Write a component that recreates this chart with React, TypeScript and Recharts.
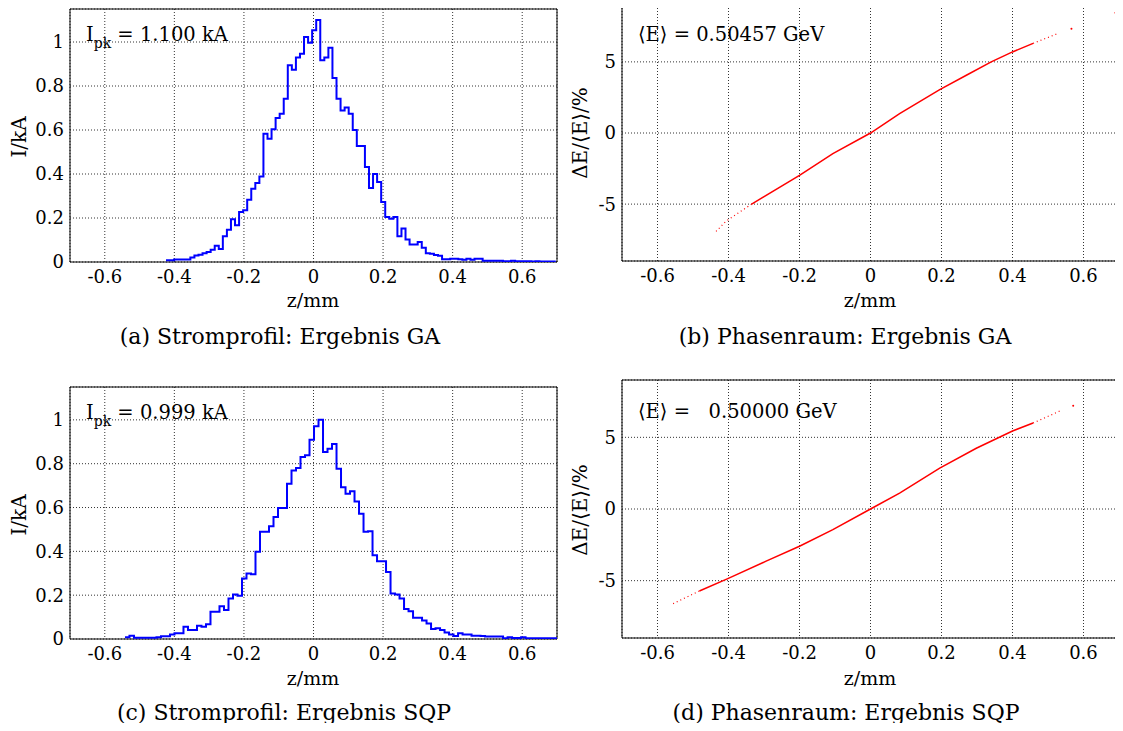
import React from "react";
import { LineChart, Line, XAxis, YAxis, CartesianGrid, ReferenceArea } from "recharts";

// axis ticks
const zTicks = [-0.6, -0.4, -0.2, 0, 0.2, 0.4, 0.6];
const currentTicks = [0, 0.2, 0.4, 0.6, 0.8, 1];
const energyTicks = [-5, 0, 5];

// current profile, GA result (kA per bin)
const gaBinStart = -0.424;
const gaBinWidth = 0.01167;
const gaCurrent = [
  0.008, 0.008, 0.011, 0.011, 0.011, 0.011, 0.02, 0.03, 0.033, 0.04,
  0.045, 0.056, 0.074, 0.059, 0.117, 0.147, 0.194, 0.167, 0.227, 0.235,
  0.283, 0.333, 0.359, 0.389, 0.583, 0.56, 0.603, 0.655, 0.674, 0.742,
  0.894, 0.874, 0.929, 0.947, 1.023, 0.997, 1.053, 1.1, 0.917, 0.929,
  0.974, 0.836, 0.742, 0.689, 0.702, 0.674, 0.6, 0.527, 0.527, 0.432,
  0.336, 0.4, 0.364, 0.273, 0.205, 0.197, 0.205, 0.117, 0.152, 0.102,
  0.08, 0.08, 0.091, 0.065, 0.04, 0.038, 0.032, 0.028, 0.012, 0.012,
  0.015, 0.015, 0.012, 0.01, 0.015, 0.01, 0.015, 0.015, 0.006, 0.006,
  0.006, 0.006, 0.006, 0.003, 0.003, 0.006, 0.003, 0.003, 0.003, 0.003,
  0.002, 0.003, 0.002, 0.002, 0.002, 0.002,
];

// current profile, SQP result
const sqpBinStart = -0.542;
const sqpBinWidth = 0.01294;
const sqpCurrent = [
  0.008, 0.015, 0.006, 0.006, 0.006, 0.006, 0.006, 0.008, 0.012, 0.012,
  0.021, 0.026, 0.026, 0.056, 0.041, 0.041, 0.061, 0.056, 0.067, 0.124,
  0.124, 0.15, 0.132, 0.185, 0.203, 0.197, 0.276, 0.299, 0.296, 0.398,
  0.489, 0.489, 0.514, 0.557, 0.598, 0.598, 0.709, 0.769, 0.78, 0.83,
  0.838, 0.909, 0.971, 1.0, 0.853, 0.868, 0.89, 0.777, 0.693, 0.663,
  0.674, 0.628, 0.572, 0.489, 0.492, 0.382, 0.355, 0.355, 0.306, 0.208,
  0.203, 0.185, 0.137, 0.127, 0.097, 0.097, 0.084, 0.071, 0.046, 0.049,
  0.041, 0.03, 0.021, 0.014, 0.026, 0.021, 0.02, 0.015, 0.015, 0.014,
  0.011, 0.011, 0.011, 0.011, 0.003, 0.008, 0.004, 0.004, 0.008, 0.003,
  0.003, 0.003, 0.003, 0.003, 0.003, 0.003,
];

// phase space, GA result (z in mm, dE/<E> in %)
const gaPhaseZ = [-0.435, -0.407, -0.336, -0.2, -0.106, 0, 0.082, 0.195, 0.27, 0.34, 0.4, 0.458, 0.528];
const gaPhaseE = [-6.92, -6.2, -5.02, -2.98, -1.45, 0, 1.37, 3.05, 4.06, 5.0, 5.7, 6.3, 7.0];
const gaDense = [2, 11];
const gaStrayZ = [0.566, 0.69];
const gaStrayE = [7.33, 8.45];

// phase space, SQP result
const sqpPhaseZ = [-0.556, -0.482, -0.402, -0.294, -0.2, -0.106, 0, 0.082, 0.195, 0.298, 0.4, 0.458, 0.533];
const sqpPhaseE = [-6.6, -5.72, -4.86, -3.64, -2.6, -1.44, 0, 1.11, 2.85, 4.24, 5.44, 6.0, 6.83];
const sqpDense = [1, 11];
const sqpStrayZ = [0.571, 0.692];
const sqpStrayE = [7.2, 8.2];

const FONT = "'DejaVu Serif', serif";
const tickStyle = { fontFamily: FONT, fontSize: 18, fill: "#000" };
const fmt = (v: number) => String(v);

function toBins(start: number, width: number, values: number[]) {
  const rows = values.map((v, i) => ({ z: start + i * width, v }));
  rows.push({ z: start + values.length * width, v: values[values.length - 1] });
  return rows;
}

function toPhase(zs: number[], es: number[], dense: number[], strayZ: number[], strayE: number[]) {
  const rows: any[] = zs.map((z, i) => ({
    z,
    core: i >= dense[0] && i <= dense[1] ? es[i] : null,
    tail: i <= dense[0] || i >= dense[1] ? es[i] : null,
    stray: null,
  }));
  strayZ.forEach((z, i) => rows.push({ z, core: null, tail: null, stray: strayE[i] }));
  return rows;
}

type Geo = { left: number; top: number; width: number; height: number; mt: number; mr: number; yw: number; xh: number };

function Hist({ geo, rows }: { geo: Geo; rows: any[] }) {
  return (
    <div style={{ position: "absolute", left: geo.left, top: geo.top }}>
      <LineChart width={geo.width} height={geo.height} data={rows} margin={{ top: geo.mt, right: geo.mr, left: 0, bottom: 0 }}>
        <CartesianGrid stroke="#333" strokeDasharray="1 2" />
        <XAxis type="number" dataKey="z" domain={[-0.7, 0.7]} ticks={zTicks} tickFormatter={fmt} tick={tickStyle}
          tickLine={false} axisLine={false} tickSize={0} tickMargin={8} height={geo.xh} allowDataOverflow />
        <YAxis type="number" domain={[0, 1.15]} ticks={currentTicks} tickFormatter={fmt} tick={tickStyle}
          tickLine={false} axisLine={false} tickSize={0} tickMargin={6} width={geo.yw} allowDataOverflow />
        <ReferenceArea x1={-0.7} x2={0.7} y1={0} y2={1.15} fill="none" stroke="#000" strokeWidth={1} ifOverflow="visible" />
        <Line type="stepAfter" dataKey="v" stroke="#0000ff" strokeWidth={2} dot={false} isAnimationActive={false} />
      </LineChart>
    </div>
  );
}

function Phase({ geo, rows }: { geo: Geo; rows: any[] }) {
  return (
    <div style={{ position: "absolute", left: geo.left, top: geo.top }}>
      <LineChart width={geo.width} height={geo.height} data={rows} margin={{ top: geo.mt, right: geo.mr, left: 0, bottom: 0 }}>
        <CartesianGrid stroke="#333" strokeDasharray="1 2" />
        <XAxis type="number" dataKey="z" domain={[-0.7, 0.7]} ticks={zTicks} tickFormatter={fmt} tick={tickStyle}
          tickLine={false} axisLine={false} tickSize={0} tickMargin={8} height={geo.xh} allowDataOverflow />
        <YAxis type="number" domain={[-9, 9]} ticks={energyTicks} tickFormatter={fmt} tick={tickStyle}
          tickLine={false} axisLine={false} tickSize={0} tickMargin={6} width={geo.yw} allowDataOverflow />
        <ReferenceArea x1={-0.7} x2={0.7} y1={-9} y2={9} fill="none" stroke="#000" strokeWidth={1} ifOverflow="visible" />
        <Line type="linear" dataKey="core" stroke="#ff0000" strokeWidth={1.5} dot={false} isAnimationActive={false} />
        <Line type="linear" dataKey="tail" stroke="#ff0000" strokeWidth={1.2} strokeDasharray="1 3" dot={false} isAnimationActive={false} />
        <Line type="linear" dataKey="stray" stroke="none" dot={{ r: 1, fill: "#ff0000", stroke: "none" }} isAnimationActive={false} />
      </LineChart>
    </div>
  );
}

function Txt({ x, y, size = 19, rotate = 0, children }: { x: number; y: number; size?: number; rotate?: number; children: React.ReactNode }) {
  return (
    <div style={{
      position: "absolute", left: x, top: y, fontFamily: FONT, fontSize: size, lineHeight: 1,
      whiteSpace: "pre", transform: `translate(-50%, -50%) rotate(${rotate}deg)`, color: "#000",
    }}>{children}</div>
  );
}

function Note({ x, y, children }: { x: number; y: number; children: React.ReactNode }) {
  return (
    <div style={{ position: "absolute", left: x, top: y, fontFamily: FONT, fontSize: 19.5, lineHeight: 1, whiteSpace: "pre", color: "#000" }}>
      {children}
    </div>
  );
}

const geoA: Geo = { left: 0, top: 0, width: 570, height: 300, mt: 9, mr: 13, yw: 70, xh: 38 };
const geoB: Geo = { left: 560, top: 0, width: 563, height: 300, mt: 5, mr: 4, yw: 62, xh: 39 };
const geoC: Geo = { left: 0, top: 378, width: 570, height: 300, mt: 9, mr: 13, yw: 70, xh: 39 };
const geoD: Geo = { left: 560, top: 378, width: 563, height: 300, mt: 2, mr: 4, yw: 62, xh: 40 };

export default function App() {
  const sub = { fontSize: 14, verticalAlign: "-7px", lineHeight: 0 } as React.CSSProperties;
  return (
    <div style={{ position: "relative", width: 1123, height: 731, background: "#fff", overflow: "hidden", margin: -8 }}>
      <Hist geo={geoA} rows={toBins(gaBinStart, gaBinWidth, gaCurrent)} />
      <Phase geo={geoB} rows={toPhase(gaPhaseZ, gaPhaseE, gaDense, gaStrayZ, gaStrayE)} />
      <Hist geo={geoC} rows={toBins(sqpBinStart, sqpBinWidth, sqpCurrent)} />
      <Phase geo={geoD} rows={toPhase(sqpPhaseZ, sqpPhaseE, sqpDense, sqpStrayZ, sqpStrayE)} />

      <Note x={86} y={25}>I<span style={sub}>pk</span> = 1.100 kA</Note>
      <Note x={86} y={403}>I<span style={sub}>pk</span> = 0.999 kA</Note>
      <Note x={638} y={25}>{"\u27E8E\u27E9 = 0.50457 GeV"}</Note>
      <Note x={638} y={402}>{"\u27E8E\u27E9 =   0.50000 GeV"}</Note>

      <Txt x={19} y={137} rotate={-90} size={20}>I/kA</Txt>
      <Txt x={19} y={515} rotate={-90} size={20}>I/kA</Txt>
      <Txt x={580} y={133} rotate={-90} size={20}>{"\u0394E/\u27E8E\u27E9/%"}</Txt>
      <Txt x={580} y={510} rotate={-90} size={20}>{"\u0394E/\u27E8E\u27E9/%"}</Txt>

      <Txt x={313} y={300}>z/mm</Txt>
      <Txt x={870} y={300}>z/mm</Txt>
      <Txt x={313} y={678}>z/mm</Txt>
      <Txt x={870} y={678}>z/mm</Txt>

      <Txt x={280} y={337} size={22}>(a) Stromprofil: Ergebnis GA</Txt>
      <Txt x={845} y={337} size={22}>(b) Phasenraum: Ergebnis GA</Txt>
      <Txt x={284} y={713} size={22}>(c) Stromprofil: Ergebnis SQP</Txt>
      <Txt x={846} y={713} size={22}>(d) Phasenraum: Ergebnis SQP</Txt>
    </div>
  );
}
